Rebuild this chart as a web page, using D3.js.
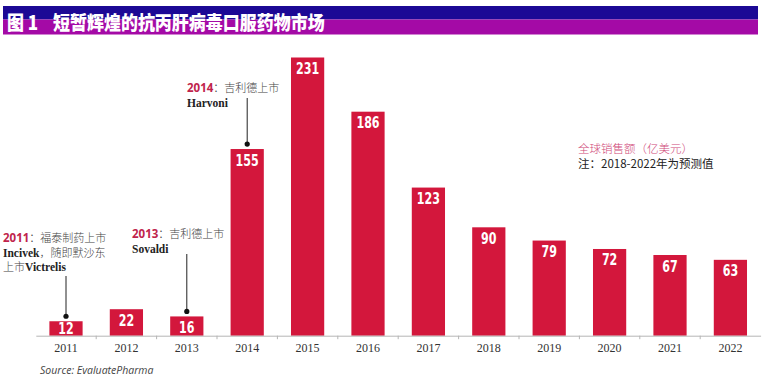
<!DOCTYPE html>
<html>
<head>
<meta charset="utf-8">
<script src="https://cdn.jsdelivr.net/npm/d3@7"></script>
<style>
  body { margin: 0; background: #fff; }
  svg { display: block; }
</style>
</head>
<body>
<svg id="chart"></svg>
<script>
"use strict";

// data
const years = ["2011", "2012", "2013", "2014", "2015", "2016", "2017", "2018", "2019", "2020", "2021", "2022"];
const sales = [12, 22, 16, 155, 231, 186, 123, 90, 79, 72, 67, 63];

const titleText = ["图 1", "短暂辉煌的抗丙肝病毒口服药物市场"];
const legendLines = ["全球销售额（亿美元）", "注：2018-2022年为预测值"];
const sourceText = "Source: EvaluatePharma";

// annotations: year, then lines as [bold part, normal part, trailing bold part]
const notes = [
    { year: "2011", lines: [["2011", "：福泰制药上市"], ["Incivek", "，随即默沙东"], ["", "上市", "Victrelis"]] },
    { year: "2013", lines: [["2013", "：吉利德上市"], ["Sovaldi", ""]] },
    { year: "2014", lines: [["2014", "：吉利德上市"], ["Harvoni", ""]] }
];

const width = 762;
const height = 380;
const baseY = 335.7;
const barColor = "#d3173c";
const cjk = "'Noto Sans CJK SC', 'Noto Sans', sans-serif";

const svg = d3.select("#chart")
    .attr("width", width)
    .attr("height", height)
    .attr("viewBox", [0, 0, width, height]);

// title banner
svg.append("rect").attr("x", 3).attr("y", 6).attr("width", 755).attr("height", 13.5).attr("fill", "#1c0995");
svg.append("rect").attr("x", 3).attr("y", 19.5).attr("width", 755).attr("height", 15).attr("fill", "#a40aa6");

const title = svg.append("text")
    .attr("transform", "translate(0,30) scale(1,1.15)")
    .attr("font-family", cjk)
    .attr("font-weight", 900)
    .style("font-size", "17px")
    .attr("fill", "#fff");
title.append("tspan").attr("x", 7).text(titleText[0]);
title.append("tspan").attr("x", 53).text(titleText[1]);

// scales
const x = d3.scaleBand()
    .domain(years)
    .range([35.8, 760.6])
    .paddingInner(0.45)
    .paddingOuter(0.225);

const y = d3.scaleLinear()
    .domain([0, 231])
    .range([baseY, 57.5]);

// bars
svg.append("g")
    .selectAll("rect")
    .data(years)
    .join("rect")
    .attr("x", d => x(d))
    .attr("width", x.bandwidth())
    .attr("y", (d, i) => y(sales[i]))
    .attr("height", (d, i) => baseY - y(sales[i]))
    .attr("fill", barColor);

// value labels, squeezed to look condensed
svg.append("g")
    .selectAll("text")
    .data(years)
    .join("text")
    .attr("transform", (d, i) =>
        `translate(${x(d) + x.bandwidth() / 2},${Math.min(y(sales[i]) + 16.5, baseY - 2)}) scale(0.74,1)`)
    .attr("text-anchor", "middle")
    .attr("font-family", "'DejaVu Sans', sans-serif")
    .attr("font-weight", "bold")
    .style("font-size", "15px")
    .attr("fill", "#fff")
    .text((d, i) => sales[i]);

// x axis
const axis = svg.append("g")
    .attr("transform", `translate(0,${baseY})`)
    .call(d3.axisBottom(x).tickSize(0).tickPadding(8))
    .call(g => g.select(".domain").attr("stroke", "#b5b5b5").attr("stroke-width", 1))
    .call(g => g.selectAll(".tick text")
        .attr("font-family", "'Liberation Serif', 'Times New Roman', serif")
        .style("font-size", "12px")
        .attr("fill", "#333"));

// tick marks sit between categories
const step = x.step();
axis.selectAll(".sep")
    .data(years.slice(1))
    .join("line")
    .attr("x1", d => x(d) + x.bandwidth() / 2 - step / 2)
    .attr("x2", d => x(d) + x.bandwidth() / 2 - step / 2)
    .attr("y1", 0)
    .attr("y2", 3.5)
    .attr("stroke", "#b5b5b5");

// annotations
const noteLayout = {
    "2011": { tx: 3, ty: 242, lineTop: 276 },
    "2013": { tx: 132, ty: 238, lineTop: 254 },
    "2014": { tx: 187, ty: 92, lineTop: 98 }
};

notes.forEach(n => {
    const lay = noteLayout[n.year];
    const cx = x(n.year) + x.bandwidth() / 2;
    const i = years.indexOf(n.year);
    const dotY = y(sales[i]) - 5;

    const g = svg.append("g");
    n.lines.forEach((ln, k) => {
        const t = g.append("text")
            .attr("x", lay.tx)
            .attr("y", lay.ty + k * 14.5)
            .style("font-size", "11px");
        if (k === 0) {
            t.append("tspan")
                .attr("font-family", "'Open Sans', 'DejaVu Sans', sans-serif")
                .attr("font-weight", "bold")
                .style("font-size", "11.5px")
                .attr("fill", "#c0244c")
                .text(ln[0]);
        } else if (ln[0]) {
            t.append("tspan")
                .attr("font-family", "'Liberation Serif', serif")
                .attr("font-weight", "bold")
                .style("font-size", "11.5px")
                .attr("fill", "#222")
                .text(ln[0]);
        }
        t.append("tspan")
            .attr("font-family", cjk)
            .attr("font-weight", 300)
            .attr("fill", "#444")
            .text(ln[1]);
        if (ln[2]) {
            t.append("tspan")
                .attr("font-family", "'Liberation Serif', serif")
                .attr("font-weight", "bold")
                .style("font-size", "11.5px")
                .attr("fill", "#222")
                .text(ln[2]);
        }
    });

    g.append("line")
        .attr("x1", cx).attr("x2", cx)
        .attr("y1", lay.lineTop).attr("y2", dotY)
        .attr("stroke", "#222")
        .attr("stroke-width", 1);
    g.append("circle")
        .attr("cx", cx).attr("cy", dotY)
        .attr("r", 2.6)
        .attr("fill", "#111");
});

// legend note
svg.append("text")
    .attr("x", 578).attr("y", 153)
    .attr("font-family", cjk)
    .attr("font-weight", 300)
    .style("font-size", "11.5px")
    .attr("fill", "#cf4878")
    .text(legendLines[0]);

svg.append("text")
    .attr("x", 578).attr("y", 168)
    .attr("font-family", cjk)
    .attr("font-weight", 400)
    .style("font-size", "11.5px")
    .attr("fill", "#222")
    .text(legendLines[1]);

// source
svg.append("text")
    .attr("x", 40).attr("y", 374)
    .attr("font-family", "'Open Sans', sans-serif")
    .attr("font-style", "italic")
    .style("font-size", "10.5px")
    .attr("fill", "#444")
    .text(sourceText);
</script>
</body>
</html>
